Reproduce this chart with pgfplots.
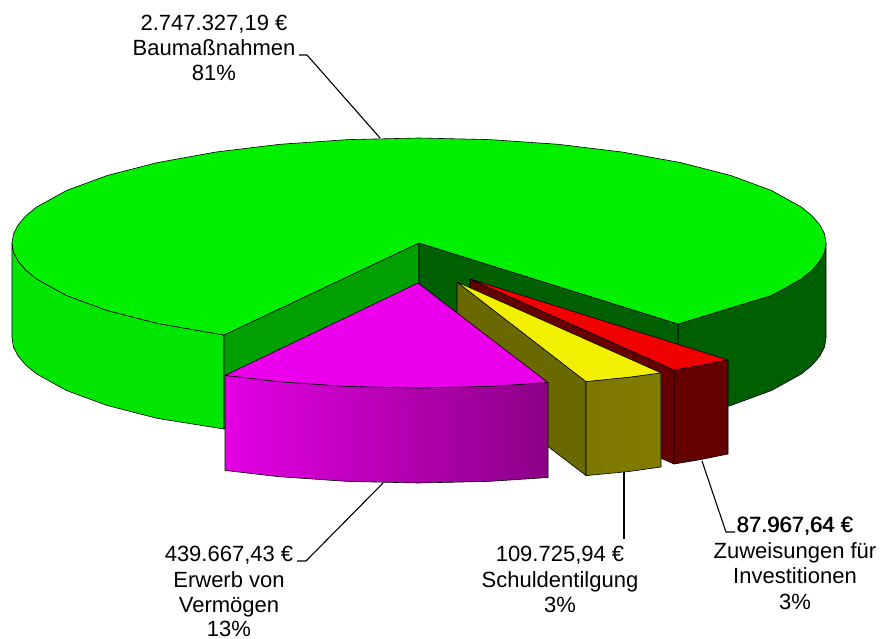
\documentclass[border=0pt]{standalone}
\usepackage{fontspec}
\setmainfont{Liberation Sans}
\usepackage{pgfplots}
\pgfplotsset{compat=1.18}
\definecolor{GreenTop}{RGB}{0,240,0}
\definecolor{GreenSide}{RGB}{0,230,0}
\definecolor{GreenWall}{RGB}{0,160,0}
\definecolor{GreenDark}{RGB}{0,95,0}
\definecolor{MagTop}{RGB}{235,0,235}
\definecolor{MagLeft}{RGB}{228,0,228}
\definecolor{MagRight}{RGB}{140,0,135}
\definecolor{YelTop}{RGB}{240,240,0}
\definecolor{OliveWall}{RGB}{105,105,0}
\definecolor{OliveLeft}{RGB}{122,118,0}
\definecolor{OliveRight}{RGB}{130,125,0}
\definecolor{RedTop}{RGB}{240,0,0}
\definecolor{RedDark}{RGB}{100,0,0}
\tikzset{lab/.style={anchor=base,inner sep=0pt,font=\fontsize{22}{25}\selectfont}}
\begin{document}
\begin{tikzpicture}
\path[use as bounding box] (0,0) rectangle (883pt,639pt);
\begin{axis}[
  at={(0,0)}, anchor=south west,
  scale only axis,
  width=883pt, height=639pt,
  xmin=0, xmax=883,
  ymin=0, ymax=639,
  y dir=reverse,
  hide axis,
  clip=false,
  every axis plot/.append style={line width=0.6pt,line join=round}
]
% green slice, outer sides
\addplot[draw=black,left color=GreenSide,right color=GreenSide] coordinates {
  (12,243) (13.5,252.2) (18.2,261.2) (25.9,270.2) (36.5,278.9) (66.5,295.5) (107.2,310.5) (157.4,323.4) (224,335)
  (224,429) (157.4,418.4) (107.2,405.5) (66.5,390.5) (36.5,373.9) (25.9,365.2) (18.2,356.2) (13.5,347.2) (12,338)
} --cycle;
\addplot[draw=black,fill=GreenDark] coordinates {
  (678,324) (771.5,295.5) (801.5,278.9) (812.1,270.2) (819.8,261.2) (824.5,252.2) (826,243)
  (826,338) (824.5,347.2) (819.8,356.2) (812.1,365.2) (801.5,373.9) (771.5,390.5) (730.8,405.5) (678,419)
} --cycle;
% green inner walls
\addplot[draw=black,fill=GreenWall] coordinates {(419,243) (224,335) (224,429) (419,338)} --cycle;
\addplot[draw=black,fill=GreenDark] coordinates {(419,243) (678,324) (678,419) (419,338)} --cycle;
% green top
\addplot[draw=black,fill=GreenTop] coordinates {
  (419,243) (678,324) (771.5,295.5) (801.5,278.9) (812.1,270.2) (819.8,261.2) (824.5,252.2) (826,243)
  (824.5,233.8) (819.8,224.8) (812.1,215.8) (801.5,207.1) (771.5,190.5) (730.8,175.5) (680.6,162.6)
  (622.5,152.1) (558.2,144.3) (489.7,139.6) (419,138) (348.3,139.6) (279.8,144.3) (215.5,152.1)
  (157.4,162.6) (107.2,175.5) (66.5,190.5) (36.5,207.1) (25.9,215.8) (18.2,224.8) (13.5,233.8) (12,243)
  (13.5,252.2) (18.2,261.2) (25.9,270.2) (36.5,278.9) (66.5,295.5) (107.2,310.5) (157.4,323.4) (224,335)
} --cycle;
% red slice
\addplot[draw=black,fill=RedDark] coordinates {(470,279) (674,369.9) (674,464) (470,374)} --cycle;
\addplot[draw=black,fill=RedDark] coordinates {(674,369.9) (701,365.4) (728,360) (728,454) (701,459.5) (674,464)} --cycle;
\addplot[draw=black,fill=RedTop] coordinates {(470,279) (674,369.9) (701,365.4) (728,360)} --cycle;
% yellow slice
\addplot[draw=black,fill=OliveWall] coordinates {(457,282) (586,381.6) (586,475.6) (457,377)} --cycle;
\addplot[draw=black,left color=OliveLeft,right color=OliveRight] coordinates {(586,381.6) (629,377.2) (661,372.9) (661,467) (629,471.5) (586,475.6)} --cycle;
\addplot[draw=black,fill=YelTop] coordinates {(457,282) (586,381.6) (629,377.2) (661,372.9)} --cycle;
% magenta slice
\addplot[draw=black,left color=MagLeft,right color=MagRight] coordinates {
  (225,375.4) (278.8,381.7) (347.3,386.4) (418,388) (488.7,386.4) (548,382.5)
  (548,477.5) (488.7,481.4) (418,483) (347.3,481.4) (278.8,476.7) (225,470.4)
} --cycle;
\addplot[draw=black,fill=MagTop] coordinates {(418,283) (225,375.4) (278.8,381.7) (347.3,386.4) (418,388) (488.7,386.4) (548,382.5)} --cycle;
% leader lines
\addplot[black,line width=1.1pt] coordinates {(299,55) (307,55) (380,138)};
\addplot[black,line width=1.1pt] coordinates {(297,561) (306,561) (383,483)};
\addplot[black,line width=1.8pt] coordinates {(624,472) (624,539)};
\addplot[black,line width=1.1pt] coordinates {(702,461) (726,532) (735,532)};
% labels
\node[lab] at (axis cs:214,31) {2.747.327,19 €};
\node[lab] at (axis cs:214,56) {Baumaßnahmen};
\node[lab] at (axis cs:214,81) {81\%};
\node[lab] at (axis cs:229,561) {439.667,43 €};
\node[lab] at (axis cs:229,587) {Erwerb von};
\node[lab] at (axis cs:229,612) {Vermögen};
\node[lab] at (axis cs:229,636) {13\%};
\node[lab] at (axis cs:560,561) {109.725,94 €};
\node[lab] at (axis cs:560,587) {Schuldentilgung};
\node[lab] at (axis cs:560,612) {3\%};
\node[lab] at (axis cs:794.7,532) {87.967,64 €};
\node[lab] at (axis cs:795.3,532) {87.967,64 €};
\node[lab] at (axis cs:795,558) {Zuweisungen für};
\node[lab] at (axis cs:795,583) {Investitionen};
\node[lab] at (axis cs:795,609) {3\%};
\end{axis}
\end{tikzpicture}
\end{document}
